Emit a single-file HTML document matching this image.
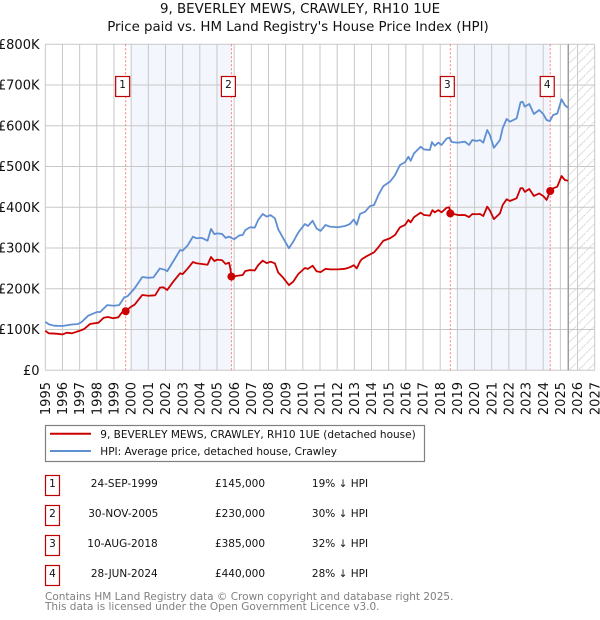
<!DOCTYPE html>
<html lang="en">
<head>
<meta charset="utf-8">
<title>9, BEVERLEY MEWS, CRAWLEY, RH10 1UE</title>
<style>
html,body{margin:0;padding:0;background:#fff;width:600px;height:620px;overflow:hidden}
svg{display:block}
text{font-family:"DejaVu Sans","Liberation Sans",sans-serif;fill:#111}
</style>
</head>
<body>
<svg id="chart" xmlns="http://www.w3.org/2000/svg" width="600" height="620" viewBox="0 0 600 620">
  <defs>
    <pattern id="hatch" patternUnits="userSpaceOnUse" width="9.3" height="9.3">
      <path d="M-1 10.3L10.3 -1" stroke="#cfcfcf" stroke-width="1" stroke-dasharray="1.6 0.7" fill="none"/>
    </pattern>
  </defs>
  <text x="300" y="13" text-anchor="middle" font-size="13.4">9, BEVERLEY MEWS, CRAWLEY, RH10 1UE</text>
  <text x="298" y="31" text-anchor="middle" font-size="13.35">Price paid vs. HM Land Registry's House Price Index (HPI)</text>
  <g id="plot"></g>

  <g>
    <rect x="45.5" y="425.5" width="379" height="36" fill="#fff" stroke="#808080" stroke-width="1.2"/>
    <line x1="50" x2="91" y1="433.7" y2="433.7" stroke="#cc0000" stroke-width="2"/>
    <text x="100.3" y="438" font-size="10.5">9, BEVERLEY MEWS, CRAWLEY, RH10 1UE (detached house)</text>
    <line x1="50" x2="91" y1="451" y2="451" stroke="#5f8fd3" stroke-width="2"/>
    <text x="100.3" y="455" font-size="10.5">HPI: Average price, detached house, Crawley</text>
  </g>

  <g font-size="10.5">
    <g>
      <rect x="45.5" y="475.5" width="14" height="20" fill="#fff" stroke="#c00000" stroke-width="1.2"/>
      <text x="52.5" y="487" text-anchor="middle">1</text>
      <text x="124.3" y="487" text-anchor="middle">24-SEP-1999</text>
      <text x="240" y="487" text-anchor="middle">£145,000</text>
      <text x="340" y="487" text-anchor="middle">19% ↓ HPI</text>
    </g>
    <g>
      <rect x="45.5" y="505.5" width="14" height="20" fill="#fff" stroke="#c00000" stroke-width="1.2"/>
      <text x="52.5" y="517" text-anchor="middle">2</text>
      <text x="123.3" y="517" text-anchor="middle">30-NOV-2005</text>
      <text x="240" y="517" text-anchor="middle">£230,000</text>
      <text x="340" y="517" text-anchor="middle">30% ↓ HPI</text>
    </g>
    <g>
      <rect x="45.5" y="535.5" width="14" height="20" fill="#fff" stroke="#c00000" stroke-width="1.2"/>
      <text x="52.5" y="547" text-anchor="middle">3</text>
      <text x="122.5" y="547" text-anchor="middle">10-AUG-2018</text>
      <text x="240" y="547" text-anchor="middle">£385,000</text>
      <text x="340" y="547" text-anchor="middle">32% ↓ HPI</text>
    </g>
    <g>
      <rect x="45.5" y="565.5" width="14" height="20" fill="#fff" stroke="#c00000" stroke-width="1.2"/>
      <text x="52.5" y="577" text-anchor="middle">4</text>
      <text x="124.3" y="577" text-anchor="middle">28-JUN-2024</text>
      <text x="240" y="577" text-anchor="middle">£440,000</text>
      <text x="340" y="577" text-anchor="middle">28% ↓ HPI</text>
    </g>
  </g>
  <text x="45" y="600" font-size="10.5" style="fill:#808080">Contains HM Land Registry data © Crown copyright and database right 2025.</text>
  <text x="45" y="610" font-size="10.5" style="fill:#808080">This data is licensed under the Open Government Licence v3.0.</text>
</svg>
<script>
const yearTicks = [1995,1996,1997,1998,1999,2000,2001,2002,2003,2004,2005,2006,2007,2008,2009,2010,2011,2012,2013,2014,2015,2016,2017,2018,2019,2020,2021,2022,2023,2024,2025,2026,2027];
const valueTicks = [0,100,200,300,400,500,600,700,800];
const valueTickLabels = ["£0","£100K","£200K","£300K","£400K","£500K","£600K","£700K","£800K"];

const hpiDates = [1995,1995.2,1995.5,1996,1996.5,1996.9,1997.1,1997.5,1998,1998.2,1998.6,1999,1999.3,1999.6,1999.8,2000.2,2000.65,2001,2001.3,2001.67,2002,2002.1,2002.45,2002.85,2003,2003.3,2003.6,2003.8,2004.1,2004.45,2004.65,2004.85,2005,2005.3,2005.5,2005.7,2006,2006.3,2006.5,2006.65,2006.92,2007.2,2007.4,2007.66,2007.9,2008.12,2008.37,2008.57,2008.86,2009.19,2009.44,2009.73,2010.12,2010.3,2010.57,2010.8,2011.03,2011.32,2011.58,2012.06,2012.45,2012.74,2012.97,2013.14,2013.33,2013.62,2013.91,2014.15,2014.4,2014.69,2015.08,2015.37,2015.66,2015.95,2016.15,2016.28,2016.47,2016.86,2017.06,2017.4,2017.52,2017.68,2017.89,2018.08,2018.38,2018.53,2018.68,2019.05,2019.44,2019.68,2019.87,2020.12,2020.32,2020.51,2020.74,2020.9,2021.13,2021.48,2021.64,2021.87,2022.06,2022.45,2022.68,2022.8,2022.93,2023.19,2023.46,2023.77,2024,2024.2,2024.39,2024.58,2024.82,2025.07,2025.26,2025.45];
const hpiValues = [119,113,109.5,108.7,112,113.6,118,134,143,143,160,158.5,160,179,182,201,229,227,228,250,246,243,267,295,293.6,307,328,324,325,318,347,334,336,334.6,325,328,321.6,331,332,344,351,350,369,383.6,377,381,373,346,324,299.6,315.7,337.7,359,354,367,348,342,356.6,352.5,351,354,359,370,357,383.6,389,403,405.7,430,452,463,479,503.8,510.5,524,514,532,548.7,542,540.6,560,551,558.6,552.9,569,571,560,558.6,561,553,565,562.7,565,558.6,589.7,577,546,565,594,616.7,610,618,657.7,659,647,653.5,629,638.8,629,614,611.8,626.5,630,665,651,644];

const priceDates = [1995,1995.2,1995.65,1996,1996.25,1996.55,1997,1997.25,1997.6,1998.1,1998.4,1998.65,1998.95,1999.25,1999.45,1999.7,1999.95,2000.2,2000.65,2001,2001.4,2001.67,2001.87,2002.1,2002.45,2002.85,2003,2003.3,2003.6,2003.8,2004.45,2004.65,2004.85,2005,2005.3,2005.5,2005.7,2005.78,2005.84,2006.1,2006.5,2006.65,2006.92,2007.2,2007.4,2007.66,2007.9,2008.12,2008.37,2008.57,2008.86,2009.19,2009.44,2009.73,2010.12,2010.3,2010.57,2010.8,2011.03,2011.32,2011.58,2012.06,2012.45,2012.74,2012.97,2013.14,2013.33,2013.43,2013.72,2014.15,2014.4,2014.69,2015.08,2015.37,2015.66,2015.95,2016.15,2016.28,2016.47,2016.86,2017.06,2017.4,2017.55,2017.68,2017.89,2018.08,2018.38,2018.53,2018.59,2019.05,2019.44,2019.68,2019.87,2020.12,2020.32,2020.51,2020.74,2020.9,2021.13,2021.48,2021.64,2021.87,2022.06,2022.45,2022.68,2022.8,2022.93,2023.19,2023.46,2023.77,2024,2024.2,2024.41,2024.58,2024.82,2025.07,2025.26,2025.45];
const priceValues = [97,90.8,89.9,88,92.3,90.8,97,101,113.6,116.8,129,130.8,127.6,130,141,145,154.7,161,184.8,183,184,202.8,203.7,197,217.5,238,236,250,265.8,262.6,259,278,268,271.5,270,261,264,250,230,231.4,233.9,243.7,246,245,258,269,263,266.6,262.6,239.6,227,209,217.5,236,251,249,256.7,243,241,249,247.6,247.6,249,252.8,258,250,266.6,272.6,280,289.6,302,318,324,332,351,356.6,369,363,375.6,386.8,381,379.5,393,387.7,393,387.7,399,400,385,381,381,376,383.6,383,383.6,378.6,401.6,391.7,371,385,405.6,419.6,415.5,422,446.6,447,438,445,427.8,434,427.8,418,440,446.6,450.6,476.8,467,465];

const saleDates = [1999.68,2005.84,2018.59,2024.41];
const salePrices = [145,230,385,440];
const saleLabels = ["1","2","3","4"];
const bandStarts = [2000,2019];
const bandEnds = [2005.84,2024.41];
const forecastStart = 2025.46;

const SVGNS = "http://www.w3.org/2000/svg";
const plot = document.getElementById("plot");
const xLeft = 45.3, xRight = 594.7, yTop = 44.3, yBottom = 370.3;
const xMin = yearTicks[0], xMax = yearTicks[yearTicks.length - 1];
const vMax = valueTicks[valueTicks.length - 1];
function xScale(t){ return xLeft + (t - xMin) * (xRight - xLeft) / (xMax - xMin); }
function yScale(v){ return yBottom - v * (yBottom - yTop) / vMax; }
function make(tag, attrs, parent){
  const el = document.createElementNS(SVGNS, tag);
  for (const k in attrs) el.setAttribute(k, attrs[k]);
  (parent || plot).appendChild(el);
  return el;
}

// shaded bands
bandStarts.forEach(function(s, i){
  const el = make("rect", {x: xScale(s), y: yTop, width: xScale(bandEnds[i]) - xScale(s), height: yBottom - yTop, fill: "#f3f6fd"});
  
  
});

// forecast hatch
const hatchRect = make("rect", {x: xScale(forecastStart), y: yTop, width: xRight - xScale(forecastStart), height: yBottom - yTop, fill: "url(#hatch)"});



// grid + y ticks
valueTicks.forEach(function(v, i){
  const y = yScale(v);
  const line = make("line", {x1: xLeft, x2: xRight, y1: y, y2: y, stroke: "#c8c8c8", "stroke-width": 1});
  
  
  const label = make("text", {x: 39.5, y: y + 4.6, "text-anchor": "end", "font-size": 13});
  
  
  label.textContent = valueTickLabels[i];
});

// grid + x ticks
yearTicks.forEach(function(t){
  const x = xScale(t);
  const line = make("line", {x1: x, x2: x, y1: yTop, y2: yBottom, stroke: "#c8c8c8", "stroke-width": 1});
  
  
  const label = make("text", {x: 0, y: 0, "text-anchor": "end", "font-size": 13, transform: "translate(" + (x + 4.6) + ",382) rotate(-90)"});
  
  
  label.textContent = String(t);
});

// forecast boundary
const boundary = make("line", {x1: xScale(forecastStart), x2: xScale(forecastStart), y1: yTop, y2: yBottom, stroke: "#999999", "stroke-width": 1.4});



// sale date lines
saleDates.forEach(function(t){
  const x = xScale(t);
  const line = make("line", {x1: x, x2: x, y1: yTop, y2: yBottom, stroke: "#ff7a80", "stroke-width": 1, "stroke-dasharray": "2 2"});
  
  
});

function pathFrom(dates, values){
  return dates.map(function(t, i){
    return (i ? "L" : "M") + xScale(t).toFixed(2) + " " + yScale(values[i]).toFixed(2);
  }).join("");
}
const hpiLine = make("path", {d: pathFrom(hpiDates, hpiValues), fill: "none", stroke: "#5f8fd3", "stroke-width": 1.8, "stroke-linejoin": "round"});


const priceLine = make("path", {d: pathFrom(priceDates, priceValues), fill: "none", stroke: "#cc0000", "stroke-width": 1.8, "stroke-linejoin": "round"});



// sale markers and badges
saleDates.forEach(function(t, i){
  const x = xScale(t);
  const dot = make("circle", {cx: x, cy: yScale(salePrices[i]), r: 4, fill: "#cc0000"});
  
  
  const box = make("rect", {x: x - 10, y: 76.5, width: 14, height: 20, fill: "#fff", stroke: "#c00000", "stroke-width": 1.2});
  
  
  const num = make("text", {x: x - 3, y: 88, "text-anchor": "middle", "font-size": 10.5});
  
  
  num.textContent = saleLabels[i];
});
</script>
</body>
</html>
